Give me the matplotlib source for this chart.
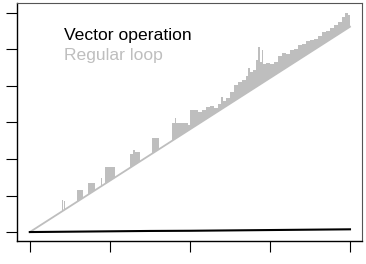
import matplotlib
matplotlib.use("Agg")
import matplotlib.pyplot as plt
from matplotlib.patches import Polygon

# timing of the plain loop: straight trend plus bursts
loop_trend_x = [0, 800]
loop_trend_y = [0.0, 5.62]
loop_start = [81, 86, 117, 145, 177, 187, 250, 258, 262, 305, 355, 362, 365,
              395, 400, 420, 430, 440, 450, 460, 470, 477.5, 482.5, 490, 500,
              510, 520, 530, 540, 545, 550, 557.5, 565, 571, 575, 580, 582.5,
              590, 600, 610, 620, 630, 640, 650, 660, 670, 680, 690, 700, 710,
              720, 730, 740, 750, 760, 770, 780, 787.5, 795]
loop_end = [83, 88, 133, 163, 180, 213, 258, 262, 275, 323, 362, 365, 395,
            400, 420, 430, 440, 450, 460, 470, 477.5, 482.5, 490, 500, 510,
            520, 530, 540, 545, 550, 557.5, 565, 571, 575, 580, 582.5, 590,
            600, 610, 620, 630, 640, 650, 660, 670, 680, 690, 700, 710, 720,
            730, 740, 750, 760, 770, 780, 787.5, 795, 800]
loop_top = [0.88, 0.85, 1.15, 1.34, 1.48, 1.78, 2.15, 2.25, 2.19, 2.58, 2.99,
            3.12, 2.99, 2.93, 3.34, 3.29, 3.34, 3.42, 3.45, 3.40, 3.51, 3.70,
            3.59, 3.67, 3.84, 4.03, 4.11, 4.16, 4.27, 4.49, 4.38, 4.44, 4.71,
            5.07, 4.66, 4.99, 4.60, 4.63, 4.60, 4.66, 4.82, 4.90, 4.88, 4.99,
            5.01, 5.12, 5.15, 5.23, 5.26, 5.29, 5.37, 5.48, 5.51, 5.59, 5.67,
            5.75, 5.89, 6.00, 5.95]

# vectorised version stays flat
vec_x = [0, 100, 200, 300, 400, 500, 600, 700, 800]
vec_y = [0.0, 0.01, 0.02, 0.03, 0.035, 0.045, 0.055, 0.065, 0.075]

x_ticks = [0, 200, 400, 600, 800]
y_ticks = [0, 1, 2, 3, 4, 5, 6]

GRAY = "#bebebe"

fig = plt.figure(figsize=(3.66, 2.64), dpi=100)
ax = fig.add_axes([17 / 366, 1 - 241 / 264, 345 / 366, 238 / 264])

# bursts: one stepped outline, clipped to the region above the trend line
verts = [(0, 0)]
for s, e, t in zip(loop_start, loop_end, loop_top):
    verts += [(s, 0), (s, t), (e, t), (e, 0)]
verts.append((800, 0))
burst = Polygon(verts, closed=True, facecolor=GRAY, edgecolor="none", zorder=1)
ax.add_patch(burst)
clip = Polygon([(loop_trend_x[0], loop_trend_y[0]),
                (loop_trend_x[1], loop_trend_y[1]),
                (loop_trend_x[1], 100), (loop_trend_x[0], 100)],
               closed=True, transform=ax.transData)
burst.set_clip_path(clip)

ax.plot(loop_trend_x, loop_trend_y, color=GRAY, lw=1.3, zorder=2)
ax.plot(vec_x, vec_y, color="black", lw=1.5, zorder=3)

ax.set_xlim(-32, 830)
ax.set_ylim(-0.245, 6.27)
ax.set_xticks(x_ticks)
ax.set_yticks(y_ticks)
ax.set_xticklabels([])
ax.set_yticklabels([])
ax.tick_params(direction="out", length=8, width=0.8, color="black")
for side in ["left", "bottom"]:
    ax.spines[side].set_color("black")
    ax.spines[side].set_linewidth(1.0)
for side in ["top", "right"]:
    ax.spines[side].set_color("#555555")
    ax.spines[side].set_linewidth(0.8)

ax.text(0.136, 0.845, "Vector operation", transform=ax.transAxes,
        fontsize=12.6, family="Liberation Sans", color="black", va="baseline")
ax.text(0.136, 0.761, "Regular loop", transform=ax.transAxes,
        fontsize=12.6, family="Liberation Sans", color=GRAY, va="baseline")

fig.savefig("out.png", dpi=100)
